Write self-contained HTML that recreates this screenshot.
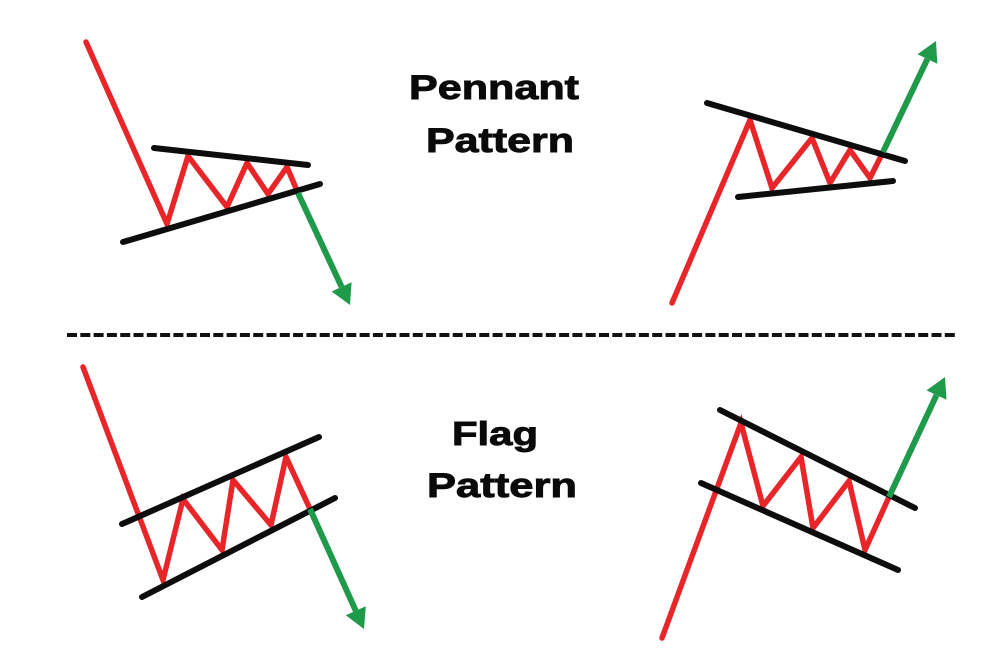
<!DOCTYPE html>
<html>
<head>
<meta charset="utf-8">
<style>
html,body{margin:0;padding:0;background:#fff;}
svg{display:block;}
text{font-family:"Liberation Sans",sans-serif;font-weight:bold;fill:#0a0a0a;stroke:#0a0a0a;stroke-width:0.9px;}
</style>
</head>
<body>
<svg width="1000" height="667" viewBox="0 0 1000 667" xmlns="http://www.w3.org/2000/svg">
<rect width="1000" height="667" fill="#ffffff"/>

<!-- Titles -->
<text x="409" y="99" font-size="34" textLength="170" lengthAdjust="spacingAndGlyphs">Pennant</text>
<text x="426" y="152" font-size="34" textLength="148" lengthAdjust="spacingAndGlyphs">Pattern</text>
<text x="452" y="445" font-size="33" textLength="86" lengthAdjust="spacingAndGlyphs">Flag</text>
<text x="427" y="497" font-size="34" textLength="150" lengthAdjust="spacingAndGlyphs">Pattern</text>

<!-- Dashed separator -->
<line x1="67" y1="335" x2="957" y2="335" stroke="#111" stroke-width="4" stroke-dasharray="10 3.3"/>

<g fill="none" stroke-linecap="round">
<!-- Top-left pennant -->
<polyline points="86,42 167,224 188,156 227,207 247,163 268,194 287,167 298,193" stroke="#e8262a" stroke-width="5.5" stroke-linejoin="miter"/>
<line x1="154" y1="148" x2="308" y2="165" stroke="#0d0d0d" stroke-width="6"/>
<line x1="123" y1="242" x2="320" y2="184" stroke="#0d0d0d" stroke-width="6"/>
<line x1="298" y1="193" x2="341.6" y2="286.9" stroke="#1f9a4a" stroke-width="6" stroke-linecap="butt"/>

<!-- Top-right pennant -->
<polyline points="672,303 750,120 772,188 812,138 830,183 850,150 870,178 883,152" stroke="#e8262a" stroke-width="5.5" stroke-linejoin="miter"/>
<line x1="707" y1="103" x2="905" y2="161" stroke="#0d0d0d" stroke-width="6"/>
<line x1="738" y1="197" x2="893" y2="181" stroke="#0d0d0d" stroke-width="6"/>
<line x1="883" y1="152" x2="927.4" y2="59" stroke="#1f9a4a" stroke-width="6" stroke-linecap="butt"/>

<!-- Bottom-left flag -->
<polyline points="83,367 163,580 183,499 222,550 233,480 271,525 286,457 310,509" stroke="#e8262a" stroke-width="5.5" stroke-linejoin="miter"/>
<line x1="122" y1="524" x2="319" y2="437" stroke="#0d0d0d" stroke-width="6"/>
<line x1="142" y1="597" x2="335" y2="498" stroke="#0d0d0d" stroke-width="6"/>
<line x1="310" y1="509" x2="355.8" y2="610.8" stroke="#1f9a4a" stroke-width="6" stroke-linecap="butt"/>

<!-- Bottom-right flag -->
<polyline points="662,638 741,423 763,506 801,457 813,528 849,481 865,550 889,497" stroke="#e8262a" stroke-width="5.5" stroke-linejoin="miter"/>
<line x1="720" y1="410" x2="915" y2="508" stroke="#0d0d0d" stroke-width="6"/>
<line x1="701" y1="483" x2="898" y2="570" stroke="#0d0d0d" stroke-width="6"/>
<line x1="889" y1="497" x2="936.5" y2="395.1" stroke="#1f9a4a" stroke-width="6" stroke-linecap="butt"/>
</g>

<!-- Arrowheads -->
<polygon points="350,305 331.6,291.5 351.6,282.3" fill="#1f9a4a"/>
<polygon points="936,41 937.3,63.7 917.5,54.3" fill="#1f9a4a"/>
<polygon points="364,629 345.8,615.3 365.8,606.3" fill="#1f9a4a"/>
<polygon points="945,377 946.5,399.8 926.5,390.4" fill="#1f9a4a"/>
</svg>
</body>
</html>
